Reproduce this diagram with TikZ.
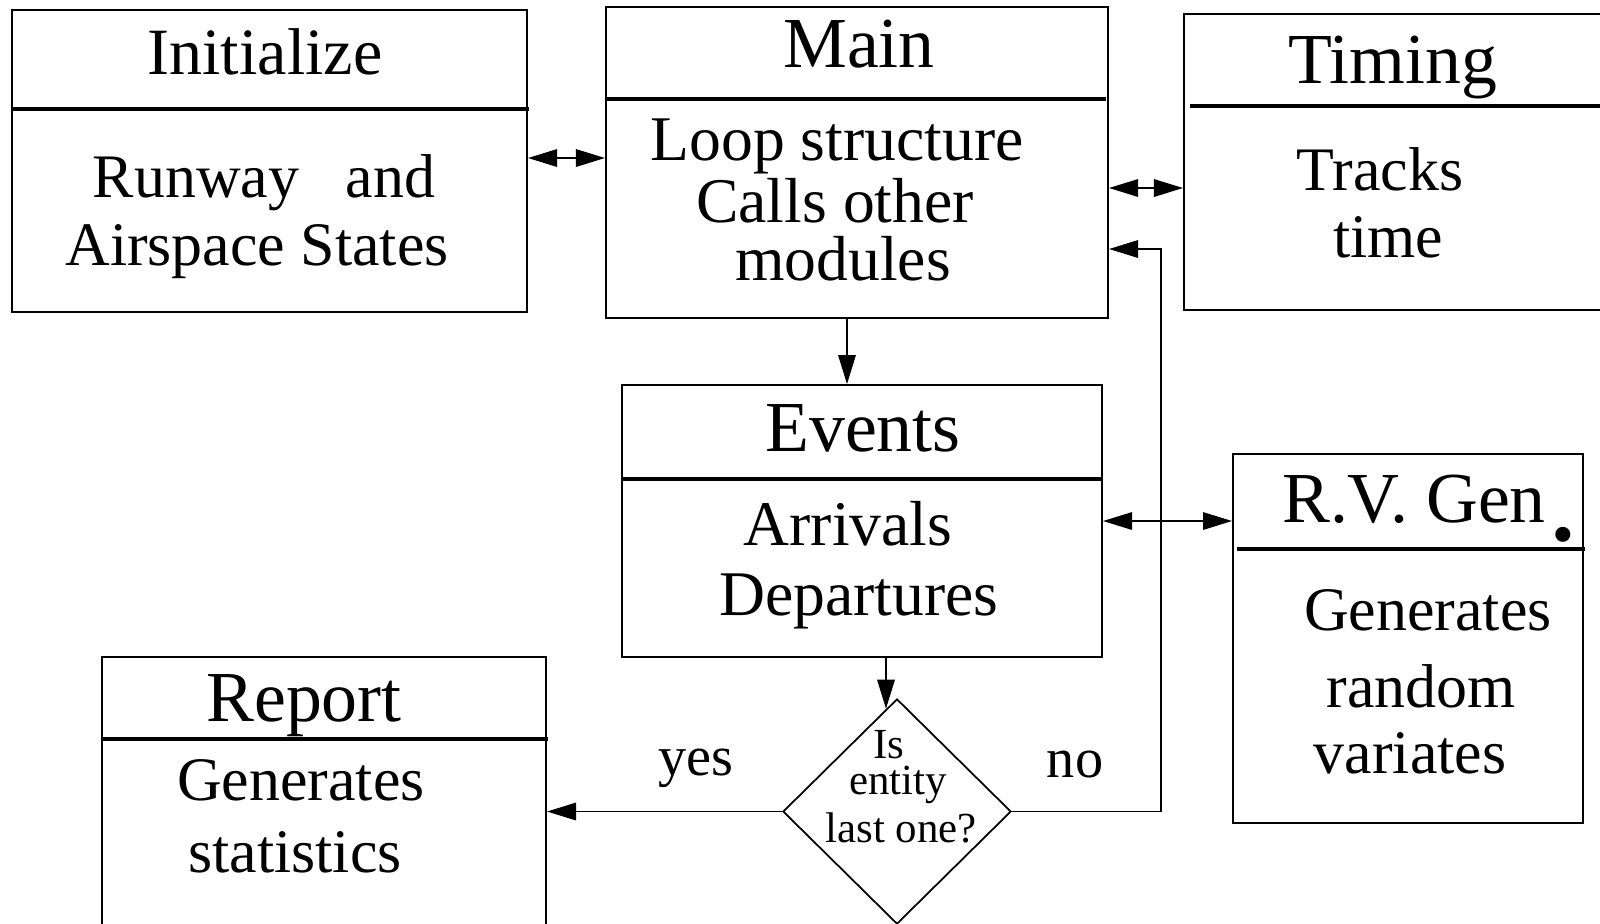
\documentclass[tikz,border=0pt]{standalone}
\usepackage{fontspec}
\setmainfont{Liberation Serif}
\usetikzlibrary{arrows.meta,shapes.geometric}

\begin{document}
\begin{tikzpicture}[x=0.01cm,y=-0.01cm,
  box/.style={draw, rectangle, line width=0.5pt, inner sep=0pt},
  rulel/.style={line width=0.95pt},
  lbl/.style={anchor=base, inner sep=0pt},
  ttl/.style={lbl, font=\fontsize{20.4}{24}\selectfont},
  ttlsmall/.style={lbl, font=\fontsize{18.8}{22}\selectfont},
  body/.style={lbl, font=\fontsize{17.6}{21}\selectfont},
  bodybig/.style={lbl, font=\fontsize{18.1}{21}\selectfont},
  small/.style={lbl, font=\fontsize{12.2}{14}\selectfont},
  answer/.style={lbl, font=\fontsize{16}{19}\selectfont},
  arr/.style={line width=0.45pt, -{Triangle[length=2.9mm,width=1.75mm]}},
  dbl/.style={line width=0.45pt, {Triangle[length=2.9mm,width=1.75mm]}-{Triangle[length=2.9mm,width=1.75mm]}}
]
\useasboundingbox (0,0) rectangle (1600,923);

% module boxes
\node[box, minimum width=5.15cm, minimum height=3.02cm] (init)   at (269.5,161)  {};
\node[box, minimum width=5.02cm, minimum height=3.11cm] (main)   at (857,162.5)  {};
\node[box, minimum width=4.36cm, minimum height=2.96cm] (timing) at (1402,162)   {};
\node[box, minimum width=4.80cm, minimum height=2.72cm] (events) at (862,521)    {};
\node[box, minimum width=3.50cm, minimum height=3.69cm] (rvgen)  at (1408,638.5) {};
\node[box, minimum width=4.44cm, minimum height=2.88cm] (report) at (324,801)    {};
\node[diamond, draw, line width=0.5pt, inner sep=0pt,
      minimum width=2.28cm, minimum height=2.25cm] (dmd) at (897,811.5) {};

% title rules
\draw[rulel] (12,109)   -- (529,109);
\draw[rulel] (606,99)   -- (1106,99);
\draw[rulel] (1190,106) -- (1620,106);
\draw[rulel] (622,479)  -- (1102,479);
\draw[rulel] (1237,549) -- (1585,549);
\draw[rulel] (102,739)  -- (548,739);

% titles
\node[ttlsmall] (tInit)   at (265,74)   {Initialize};
\node[ttl]      (tMain)   at (859,67)   {Main};
\node[ttl]      (tTiming) at (1393,83)  {Timing};
\node[ttl]      (tEvents) at (863,451)  {Events};
\node[ttl]      (tRV)     at (1414,522) {R.V. Gen};
\node[lbl, font=\fontsize{36}{40}\selectfont] (tRVdot) at (1563,540) {.};
\node[ttl]      (tReport) at (304,721)  {Report};

% descriptions
\node[body]    (bInitA) at (264,197) {Runway\ \ \ and};
\node[body]    (bInitB) at (257,265) {Airspace States};
\node[bodybig] (bMainA) at (837,160) {Loop structure};
\node[bodybig] (bMainB) at (835,222) {Calls other};
\node[bodybig] (bMainC) at (843,280) {modules};
\node[body]    (bTimA)  at (1380,190) {Tracks};
\node[body]    (bTimB)  at (1388,257) {time};
\node[bodybig] (bEvA)   at (848,545) {Arrivals};
\node[bodybig] (bEvB)   at (859,615) {Departures};
\node[body]    (bRVA)   at (1428,630) {Generates};
\node[body]    (bRVB)   at (1421,707) {random};
\node[body]    (bRVC)   at (1410,773) {variates};
\node[body]    (bRepA)  at (301,800) {Generates};
\node[body]    (bRepB)  at (295,872) {statistics};

% decision text
\node[small] (qA) at (889,758) {Is};
\node[small] (qB) at (898,794) {entity};
\node[small] (qC) at (901,842) {last one?};

\node[answer] (yes) at (696,775)  {yes};
\node[answer] (no)  at (1075,777) {no};

% connectors
\coordinate (yIM) at (0,158);
\draw[dbl] (init.east |- yIM) -- (main.west |- yIM);
\coordinate (yMT) at (0,188);
\draw[dbl] (main.east |- yMT) -- (timing.west |- yMT);
\coordinate (xME) at (847,0);
\draw[arr] (main.south -| xME) -- (events.north -| xME);
\coordinate (yER) at (0,521);
\draw[dbl] (events.east |- yER) -- (rvgen.west |- yER);
\coordinate (xED) at (886,0);
\draw[arr] (events.south -| xED) -- (dmd.96 -| xED);
\draw[arr] (dmd.west) -- (report.east |- dmd.west);
\coordinate (back) at (1161,249);
\draw[arr] (dmd.east) -| (back) -- (main.east |- back);
\end{tikzpicture}
\end{document}
